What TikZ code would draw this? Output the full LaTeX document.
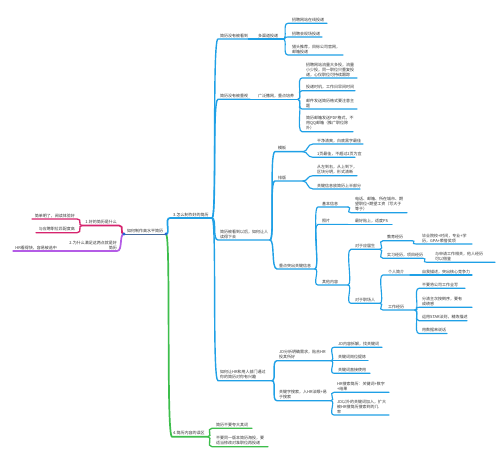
\documentclass[tikz,border=0pt]{standalone}
\usepackage{fontspec}
\newfontfamily\cjk{Noto Sans CJK SC}
\definecolor{bl}{HTML}{1FA0E6}
\definecolor{rd}{HTML}{D6246E}
\definecolor{pu}{HTML}{B45CE6}
\definecolor{gr}{HTML}{3DBE4C}
\definecolor{rootc}{HTML}{4A6D9C}
\definecolor{dotc}{HTML}{2468D6}
\definecolor{txt}{HTML}{333333}
\newcommand\mmR[8]{%
  \coordinate (#1-s) at (#3,#5);
  \coordinate (#1-e) at (#4,#5);
  \node[lbl,anchor=south west] (#1) at (#6,#5-1.3) {#7};
  \draw[#8] (#2) .. controls +(5,0) and +(-6,0) .. (#1-s) -- (#1-e);
}
\newcommand\mmL[8]{%
  \coordinate (#1-s) at (#3,#5);
  \coordinate (#1-e) at (#4,#5);
  \node[lbl,anchor=south east,align=right] (#1) at (#6,#5-1.3) {#7};
  \draw[#8] (#2) .. controls +(-5,0) and +(6,0) .. (#1-e) -- (#1-s);
}
\begin{document}
\begin{tikzpicture}[x=1pt,y=-1pt,
  lbl/.style={font=\cjk\fontsize{4}{5}\selectfont,inner sep=0pt,align=left,text=txt},
  b1/.style={draw=bl,line width=1.7pt,line cap=round},
  b2/.style={draw=bl,line width=1.4pt,line cap=round},
  b3/.style={draw=bl,line width=1.15pt,line cap=round},
  rd1/.style={draw=rd,line width=1.7pt,line cap=round},
  rd2/.style={draw=rd,line width=1.3pt,line cap=round},
  pu1/.style={draw=pu,line width=1.7pt,line cap=round},
  pu2/.style={draw=pu,line width=1.3pt,line cap=round},
  g1/.style={draw=gr,line width=1.7pt,line cap=round},
  g2/.style={draw=gr,line width=1.3pt,line cap=round}]
\fill[white] (0,0) rectangle (499,460);
\useasboundingbox (0,0) rectangle (499,460);
% root
\coordinate (rootL) at (124,234);
\coordinate (rootR) at (166,234);
\node[lbl,anchor=south] (root) at (145,232.6) {如何制作高水平简历};
\draw[rootc,line width=0.8pt] (rootL) -- (rootR);
% left
\mmL{L1}{rootL}{82}{119}{225.5}{117}{1.好的简历是什么}{rd1}
\mmL{L1a}{L1-s}{32}{77}{219}{75}{简单明了，阅读体验好}{rd2}
\mmL{L1b}{L1-s}{36}{77}{232.7}{75}{与应聘职位匹配度高}{rd2}
\mmL{L2}{rootL}{65}{117}{251}{117}{2.为什么满足这两点就是好\\简历}{pu1}
\mmL{L2a}{L2-s}{13}{65}{251}{57}{HR看得快，容易被选中}{pu2}
% right, branch 3
\mmR{R3}{rootR}{170}{212}{218}{173}{3.怎么制作好的简历}{b1}
\mmR{A}{R3-e}{218}{250}{39}{220}{简历没有被看到}{b2}
\mmR{AA}{A-e}{250}{283}{39}{258}{多渠道投递}{b2}
\mmR{A1}{AA-e}{288}{327}{23.3}{292}{招聘网站在线投递}{b3}
\mmR{A2}{AA-e}{288}{322}{37}{292}{招聘会现场投递}{b3}
\mmR{A3}{AA-e}{288}{343}{55}{292}{猎头推荐，目标公司官网，\\邮箱投递}{b3}
\mmR{B}{R3-e}{218}{250}{99.3}{220}{简历没有被重视}{b2}
\mmR{BB}{B-e}{250}{298}{99.3}{258}{广泛撒网，重点培养}{b2}
\mmR{B1}{BB-e}{302}{357}{78}{306}{招聘网站流量大多投，流量\\小少投，同一职位只重复投\\递，心仪职位可持续跟踪}{b3}
\mmR{B2}{BB-e}{302}{355}{90.7}{306}{投递时机，工作日早间时间}{b3}
\mmR{B3}{BB-e}{302}{357}{109}{306}{邮件发送简历格式要注意主\\题}{b3}
\mmR{B4}{BB-e}{302}{353}{131.7}{306}{简历邮箱发送PDF格式，不\\用QQ邮箱（推广职位除\\外）}{b3}
\mmR{C}{R3-e}{218}{270}{240}{220}{简历被看到以后，如何让人\\读得下去}{b2}
\mmR{C1}{C-e}{275}{303}{151.7}{278}{模板}{b2}
\mmR{C1a}{C1-e}{313}{363}{144}{317}{干净清爽，白底黑字最佳}{b3}
\mmR{C1b}{C1-e}{313}{355}{157.3}{317}{1页最佳，不超过2页为宜}{b3}
\mmR{C2}{C-e}{275}{303}{181}{278}{排版}{b2}
\mmR{C2a}{C2-e}{313}{357}{175.7}{317}{从左到右，从上到下，\\区块分明，形式清晰}{b3}
\mmR{C2b}{C2-e}{313}{360}{189}{317}{关键信息放简历上半部分}{b3}
\mmR{C3}{C-e}{277}{315}{269}{279}{重点突出关键信息}{b2}
\mmR{C3a}{C3-e}{318}{348}{207}{322}{基本信息}{b3}
\mmR{C3a1}{C3a-e}{351}{407}{212.7}{355}{电话、邮箱、所在城市、期\\望职位+期望工资（写大于\\等于）}{b3}
\mmR{C3b}{C3-e}{318}{348}{224.4}{322}{照片}{b3}
\mmR{C3b1}{C3b-e}{351}{392}{224.4}{355}{最好贴上，适度PS}{b3}
\mmR{C3c}{C3-e}{318}{348}{285}{322}{其他内容}{b3}
\mmR{C3c1}{C3c-e}{351}{380}{249.3}{355}{对于应届生}{b3}
\mmR{E1}{C3c1-e}{383}{412}{240.7}{387}{教育经历}{b3}
\mmR{E1a}{E1-e}{416}{472}{244}{422}{毕业院校+时间，专业+学\\历，GPA+荣誉奖项}{b3}
\mmR{E2}{C3c1-e}{383}{423}{258.3}{387}{实习经历，项目经历}{b3}
\mmR{E2a}{E2-e}{427}{495}{262.3}{435}{与申请工作相关，他人经历\\可以借鉴}{b3}
\mmR{C3c2}{C3c-e}{351}{380}{303.3}{355}{对于职场人}{b3}
\mmR{F1}{C3c2-e}{383}{410}{275}{388}{个人简介}{b3}
\mmR{F1a}{F1-e}{413}{472}{275}{422}{自我描述，突出核心竞争力}{b3}
\mmR{F2}{C3c2-e}{383}{415}{310}{388}{工作经历}{b3}
\mmR{F2a}{F2-e}{419}{465}{288.3}{422}{不要将公司工作全写}{b3}
\mmR{F2b}{F2-e}{419}{472}{307.3}{422}{分清主次按倒序，要有\\成绩感}{b3}
\mmR{F2c}{F2-e}{419}{467}{320.7}{422}{运用STAR法则，精炼描述}{b3}
\mmR{F2d}{F2-e}{419}{447}{333.5}{422}{用数据来说话}{b3}
\mmR{D}{R3-e}{218}{272}{380.7}{220}{如何让HR和用人部门通过\\你的简历对你有兴趣}{b2}
\mmR{D1}{D-e}{277}{331}{360.7}{279}{JD分析明确需求，贴合HR\\投其所好}{b2}
\mmR{D1a}{D1-e}{334}{382}{347.3}{338}{JD内容拆解，找关键词}{b3}
\mmR{D1b}{D1-e}{334}{368}{360.7}{338}{关键词岗位提炼}{b3}
\mmR{D1c}{D1-e}{334}{370}{373.3}{338}{关键词直接使用}{b3}
\mmR{D2}{D-e}{277}{331}{400.7}{279}{关键字搜索，入HR法眼+易\\于搜索}{b2}
\mmR{D2a}{D2-e}{334}{389}{392.3}{337}{HR搜索简历：关键词+数字\\+结果}{b3}
\mmR{D2b}{D2-e}{334}{389}{415}{337}{JD以外的关键词加入，扩大\\被HR搜简历搜索到的几\\率}{b3}
% branch 4
\mmR{R4}{rootR}{172}{208}{436.7}{173}{4.简历内容的误区}{g1}
\mmR{G1}{R4-e}{212}{252}{428.3}{216}{简历不要夸大其词}{g2}
\mmR{G2}{R4-e}{212}{268}{446.7}{216}{不要同一版本简历海投，要\\适当修改对准职位再投递}{g2}
% dots
\fill[dotc] (rootL) circle (1.7);
\fill[dotc] (rootR) circle (1.7);
\end{tikzpicture}
\end{document}
